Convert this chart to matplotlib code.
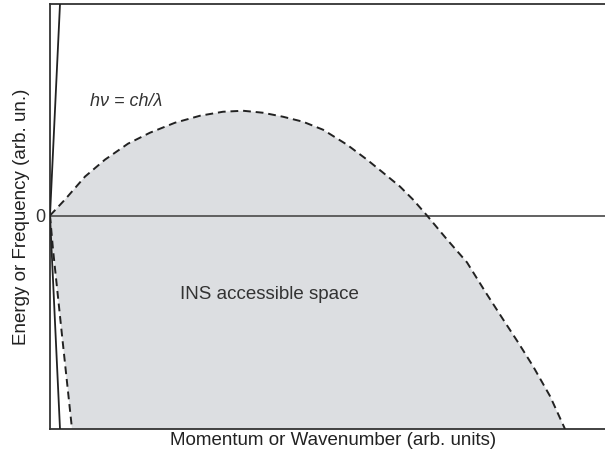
import matplotlib
matplotlib.use("Agg")
import matplotlib.pyplot as plt

plt.rcParams['font.family'] = ['Liberation Sans', 'DejaVu Sans']

# boundary of the accessible region (arb. units)
q_upper = [0, 15, 35, 55, 78, 100, 125, 150, 173, 193, 213, 233, 253, 273, 297,
           317, 333, 350, 363, 377, 397, 417, 435, 453, 468, 483, 500, 515]
e_upper = [0, 16, 39, 56, 72, 83, 93, 100, 104, 105, 103, 99, 94, 86, 71,
           56, 43, 29, 16, 0, -24, -47, -76, -104, -127, -151, -181, -214]

# steep low-Q branch of the boundary
q_lower = [0, 3, 12, 22]
e_lower = [0, -34, -120, -214]

# photon line hv = ch/lambda
q_photon = [10, 0, 10]
e_photon = [212, 0, -214]

q_max = 555
e_top = 212
e_bottom = -214

fig = plt.figure(figsize=(6.05, 4.58), dpi=100)
ax = fig.add_axes([50 / 605, 29 / 458, 555 / 605, 425 / 458])

# grey region: upper curve out, bottom edge back, lower branch up to origin
poly_q = q_upper + q_lower[::-1]
poly_e = e_upper + e_lower[::-1]
ax.fill(poly_q, poly_e, color='#dcdee1', lw=0, zorder=1)

ax.axhline(0, color='#555555', lw=1.3, zorder=2)
ax.plot(q_upper, e_upper, color='#222222', lw=1.4, ls=(0, (4, 2.5)), zorder=3)
ax.plot(q_lower, e_lower, color='#222222', lw=1.4, ls=(0, (4, 2.5)), zorder=3)
ax.plot(q_photon, e_photon, color='#222222', lw=1.3, zorder=3)

ax.text(40, 114, 'hν = ch/λ', style='italic', fontsize=13, color='#333333', va='center')
ax.text(130, -79, 'INS accessible space', fontsize=13.5, color='#333333', va='center')

ax.set_xlim(0, q_max)
ax.set_ylim(e_bottom, e_top)
ax.set_xticks([])
ax.set_yticks([0])
ax.set_yticklabels(['0'], fontsize=13, color='#333333')
ax.tick_params(axis='y', length=0, pad=3)

for side in ['left', 'bottom', 'top']:
    ax.spines[side].set_linewidth(1.3)
    ax.spines[side].set_color('#333333')
ax.spines['right'].set_visible(False)

ax.set_xlabel('Momentum or Wavenumber (arb. units)', fontsize=13.5, color='#222222')
ax.xaxis.set_label_coords(0.51, -0.008, transform=ax.transAxes)
ax.xaxis.label.set_va('top')
ax.set_ylabel('Energy or Frequency (arb. un.)', fontsize=13.5, color='#222222')
ax.yaxis.set_label_coords(-0.036, 0.5, transform=ax.transAxes)

fig.savefig('out.png', dpi=100)
